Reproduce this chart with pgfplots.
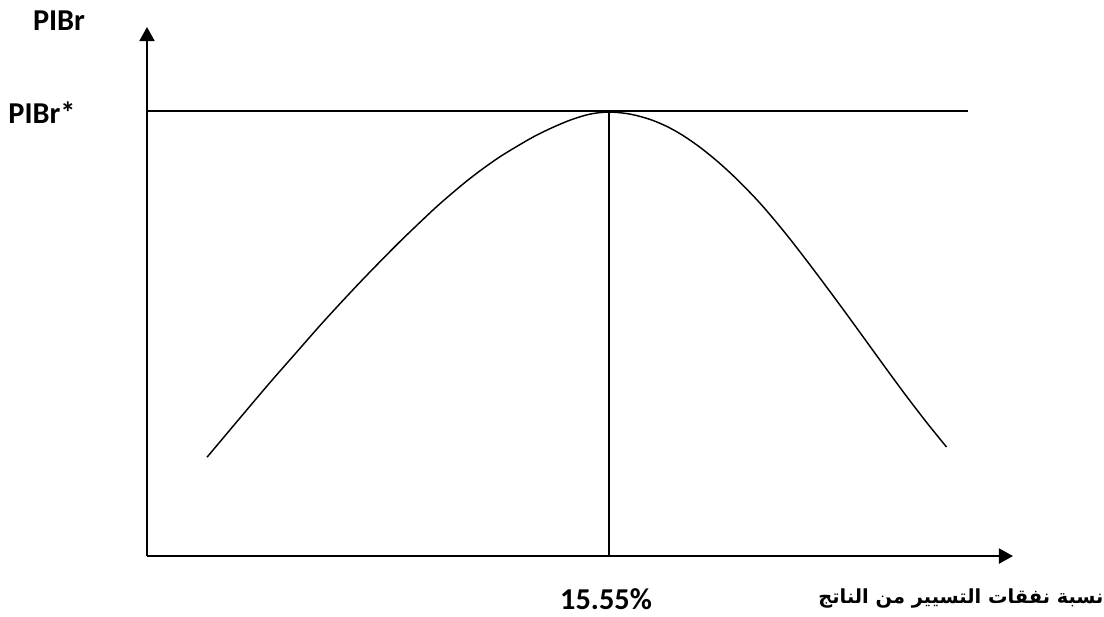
\documentclass[border=0pt]{standalone}
\usepackage{pgfplots}
\pgfplotsset{compat=1.18}
\usepackage{fontspec}
\setmainfont{Carlito}
\newfontfamily\arabicfont[Script=Arabic]{DejaVu Sans}
\TeXXeTstate=1
\usetikzlibrary{arrows.meta}
\begin{document}
\begin{tikzpicture}
\begin{axis}[
  scale only axis, width=16cm, height=8.928cm,
  xmin=0, xmax=1104, ymin=0, ymax=616, y dir=reverse,
  hide axis, clip=false,
]
% axes
\addplot[black, line width=0.8pt, -{Triangle[width=6.2pt,length=5.8pt]}] coordinates {(147,556) (147,27)};
\addplot[black, line width=0.8pt, -{Triangle[width=6.2pt,length=5.8pt]}] coordinates {(147,556) (1013,556)};
% horizontal line PIBr*
\addplot[black, line width=0.8pt] coordinates {(147,111) (968,111)};
% vertical line at 15.55%
\addplot[black, line width=0.8pt] coordinates {(609,111) (609,556)};
% curve
\addplot[black, line width=0.6pt, smooth, tension=0.5] coordinates {
(207,457.2) (238,420.3) (270,382.5) (295,354) (320,325.5) (343,300.4) (367,275.0)
(400,241.5) (433,210.0) (450,195.0) (467,180.8) (483,168.6) (500,156.7) (517,146.3)
(535,136.0) (553,127.3) (571,119.8) (590,114.1) (609,112)
(630,114.1) (650,119.4) (667,126.5) (683,135.5) (700,147.3) (717,161.0) (733,175.5)
(750,192.5) (762,205.4) (776,221.8) (790,239.0) (807,261.0) (823,282.2) (840,305.1)
(857,328.4) (873,350.5) (890,373.9) (907,396.9) (927,422.9) (946.5,447)};
% labels
\node[font=\bfseries\fontsize{12.5}{14}\selectfont] at (axis cs:59,21) {PIBr};
\node[font=\bfseries\fontsize{12.5}{14}\selectfont] at (axis cs:42,113) {PIBr*};
\node[font=\bfseries\fontsize{12.5}{14}\selectfont] at (axis cs:606,599) {15.55\%};
\node[font=\arabicfont\bfseries\fontsize{8}{9}\selectfont] at (axis cs:961,598) {\beginR نسبة نفقات التسيير من الناتج\endR};
\coordinate (bl) at (axis cs:0,616);
\coordinate (tr) at (axis cs:1104,0);
\end{axis}
\pgfresetboundingbox
\path (bl) rectangle (tr);
\end{tikzpicture}
\end{document}
